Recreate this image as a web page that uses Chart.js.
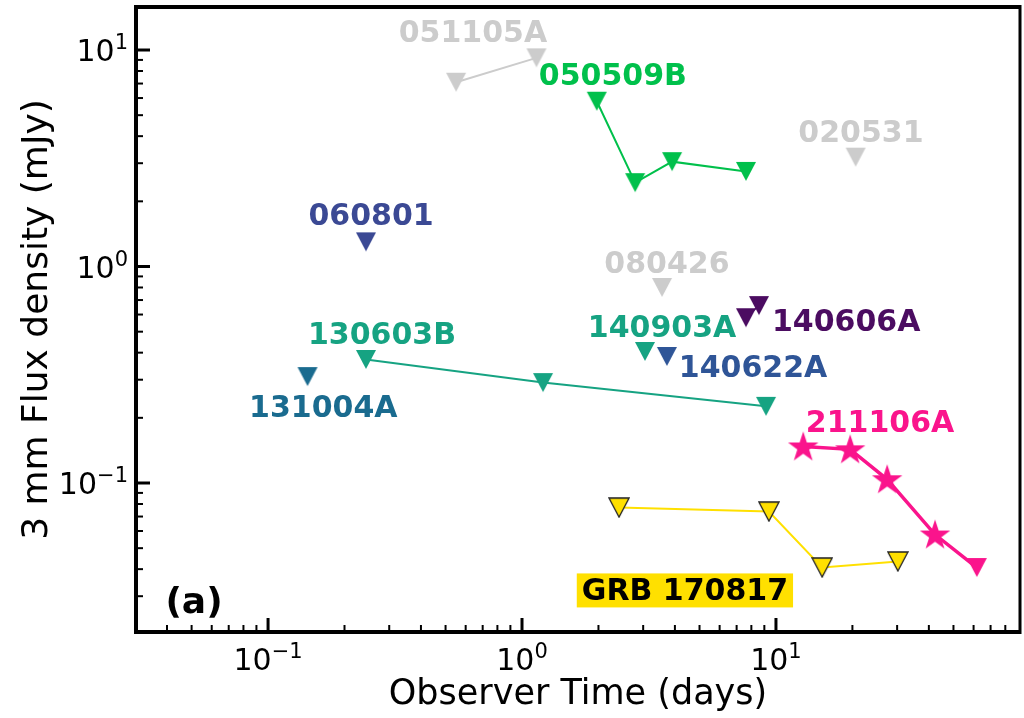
<!DOCTYPE html>
<html>
<head>
<meta charset="utf-8">
<script src="https://cdn.jsdelivr.net/npm/chart.js@4.4.1/dist/chart.umd.min.js"></script>
<style>
html, body { margin: 0; padding: 0; background: #fff; }
</style>
</head>
<body>
<canvas id="grb" width="1024" height="718"></canvas>
<script>
// observer time (days) / 3 mm flux density (mJy)
var t051105A = [0.55, 1.14];
var f051105A = [7.1, 9.2];
var t050509B = [1.97, 2.79, 3.90, 7.62];
var f050509B = [5.8, 2.44, 3.05, 2.75];
var t020531 = [20.6];
var f020531 = [3.2];
var t060801 = [0.243];
var f060801 = [1.30];
var t080426 = [3.56];
var f080426 = [0.80];
var t140606A = [7.62, 8.57];
var f140606A = [0.58, 0.66];
var t140903A = [3.05];
var f140903A = [0.405];
var t140622A = [3.72];
var f140622A = [0.384];
var t130603B = [0.243, 1.21, 9.14];
var f130603B = [0.372, 0.291, 0.226];
var t131004A = [0.143];
var f131004A = [0.31];
var t211106A = [12.8, 19.6, 27.4, 42.3, 61.8];
var f211106A = [0.1475, 0.143, 0.104, 0.0578, 0.0407];
var t170817 = [2.41, 9.38, 15.2, 30.2];
var f170817 = [0.077, 0.0738, 0.0407, 0.0434];

// name labels, placed in data coordinates (text centre)
var labelText = ['051105A', '050509B', '020531', '060801', '080426', '140606A', '140903A', '140622A', '130603B', '131004A', '211106A'];
var labelT = [0.641, 2.28, 21.6, 0.2545, 3.72, 18.9, 3.56, 8.12, 0.281, 0.165, 25.7];
var labelF = [12.2, 7.70, 4.2, 1.74, 1.05, 0.563, 0.528, 0.345, 0.491, 0.226, 0.192];
var grbLabel = 'GRB 170817';
var grbLabelT = 4.38, grbLabelF = 0.0319;
var panelLabel = '(a)';
var panelT = 0.0511, panelF = 0.0284;

var xMin = 0.0302, xMax = 91.4;
var yMin = 0.0205, yMax = 15.8;

var gray = '#cccccc', green = '#00c04b', navy = '#3b4994', purple = '#4b0c61',
    teal = '#16a382', blue = '#2f5597', petrol = '#1a6b8f', pink = '#fa148c', gold = '#ffe000';
var labelColor = [gray, green, gray, navy, gray, purple, teal, blue, teal, petrol, pink];

var FONT = '"DejaVu Sans", sans-serif';

function pts(t, f) {
	var out = [];
	for (var i = 0; i < t.length; i++) out.push({x: t[i], y: f[i]});
	return out;
}

function downTri(fill, edge) {
	var w = 20, h = 19;
	var c = document.createElement('canvas');
	c.width = w + 2; c.height = h + 2;
	var g = c.getContext('2d');
	g.beginPath();
	g.moveTo(1, 1); g.lineTo(w + 1, 1); g.lineTo(w / 2 + 1, h + 1);
	g.closePath();
	g.fillStyle = fill; g.fill();
	if (edge) { g.lineWidth = 1.3; g.strokeStyle = edge; g.stroke(); }
	return c;
}

function star(fill) {
	var R = 16, r = 6.2, s = 2 * R + 2;
	var c = document.createElement('canvas');
	c.width = s; c.height = s;
	var g = c.getContext('2d');
	g.beginPath();
	for (var k = 0; k < 10; k++) {
		var a = -Math.PI / 2 + k * Math.PI / 5;
		var rr = k % 2 ? r : R;
		var px = s / 2 + rr * Math.cos(a), py = s / 2 + 1 + rr * Math.sin(a);
		if (k === 0) g.moveTo(px, py); else g.lineTo(px, py);
	}
	g.closePath();
	g.fillStyle = fill; g.fill();
	return c;
}

function series(t, f, color, width, marker) {
	return {
		data: pts(t, f),
		showLine: t.length > 1,
		borderColor: color,
		borderWidth: width,
		pointStyle: marker,
		pointRadius: 10,
		pointHoverRadius: 10,
		tension: 0
	};
}

function logTicks(min, max) {
	var out = [];
	for (var e = Math.floor(Math.log10(min)); e <= Math.ceil(Math.log10(max)); e++) {
		for (var m = 1; m < 10; m++) {
			var v = m * Math.pow(10, e);
			if (v >= min && v <= max) out.push({value: v});
		}
	}
	return out;
}

function isDecade(v) {
	var l = Math.log10(v);
	return Math.abs(l - Math.round(l)) < 1e-9;
}

// "10" with a raised exponent, like matplotlib's log tick labels
function drawPow(ctx, v, x, base, align) {
	var e = Math.round(Math.log10(v));
	var sup = (e < 0 ? '\u2212' : '') + Math.abs(e);
	ctx.font = '30px ' + FONT;
	var w1 = ctx.measureText('10').width;
	ctx.font = '21px ' + FONT;
	var w2 = ctx.measureText(sup).width;
	var x0 = align === 'right' ? x - w1 - w2 : x - (w1 + w2) / 2;
	ctx.textAlign = 'left';
	ctx.textBaseline = 'alphabetic';
	ctx.font = '30px ' + FONT;
	ctx.fillText('10', x0, base);
	ctx.font = '21px ' + FONT;
	ctx.fillText(sup, x0 + w1, base - 12);
}

var pinkStar = star(pink);
var pinkTri = downTri(pink);

var datasets = [
	series(t051105A, f051105A, gray, 2, downTri(gray)),
	series(t050509B, f050509B, green, 2, downTri(green)),
	series(t020531, f020531, gray, 1.5, downTri(gray)),
	series(t060801, f060801, navy, 1.5, downTri(navy)),
	series(t080426, f080426, gray, 1.5, downTri(gray)),
	series(t140606A, f140606A, purple, 1.5, downTri(purple)),
	series(t140903A, f140903A, teal, 1.5, downTri(teal)),
	series(t140622A, f140622A, blue, 1.5, downTri(blue)),
	series(t130603B, f130603B, teal, 2, downTri(teal)),
	series(t131004A, f131004A, petrol, 1.5, downTri(petrol)),
	series(t170817, f170817, gold, 2, downTri(gold, '#222')),
	series(t211106A, f211106A, pink, 3.5, [pinkStar, pinkStar, pinkStar, pinkStar, pinkTri])
];

var frame = {
	id: 'frame',
	afterDatasetsDraw: function(chart) {
		var ctx = chart.ctx, xs = chart.scales.x, ys = chart.scales.y;
		ctx.save();
		ctx.textAlign = 'center';
		ctx.textBaseline = 'middle';
		ctx.font = 'bold 30px ' + FONT;
		for (var i = 0; i < labelText.length; i++) {
			ctx.fillStyle = labelColor[i];
			ctx.fillText(labelText[i], xs.getPixelForValue(labelT[i]), ys.getPixelForValue(labelF[i]) + 3);
		}
		// GRB 170817 tag on yellow box
		var gx = xs.getPixelForValue(grbLabelT), gy = ys.getPixelForValue(grbLabelF);
		var w = ctx.measureText(grbLabel).width + 10;
		ctx.fillStyle = gold;
		ctx.fillRect(gx - w / 2, gy - 17, w, 34);
		ctx.fillStyle = '#000';
		ctx.fillText(grbLabel, gx, gy + 2);
		ctx.font = 'bold 36px ' + FONT;
		ctx.fillText(panelLabel, xs.getPixelForValue(panelT), ys.getPixelForValue(panelF) + 2);
		ctx.restore();
	},
	afterDraw: function(chart) {
		var ctx = chart.ctx, a = chart.chartArea, xs = chart.scales.x, ys = chart.scales.y;
		ctx.save();
		ctx.strokeStyle = '#000';
		ctx.fillStyle = '#000';
		// inward ticks + decade labels
		xs.ticks.forEach(function(t) {
			var p = xs.getPixelForValue(t.value);
			if (p < a.left + 2 || p > a.right - 2) return;
			var major = isDecade(t.value);
			ctx.lineWidth = major ? 3 : 2;
			ctx.beginPath();
			ctx.moveTo(p, a.bottom);
			ctx.lineTo(p, a.bottom - (major ? 14 : 7));
			ctx.stroke();
			if (major) drawPow(ctx, t.value, p, a.bottom + 38, 'center');
		});
		ys.ticks.forEach(function(t) {
			var p = ys.getPixelForValue(t.value);
			if (p < a.top + 2 || p > a.bottom - 2) return;
			var major = isDecade(t.value);
			ctx.lineWidth = major ? 3 : 2;
			ctx.beginPath();
			ctx.moveTo(a.left, p);
			ctx.lineTo(a.left + (major ? 14 : 7), p);
			ctx.stroke();
			if (major) drawPow(ctx, t.value, a.left - 8, p + 11, 'right');
		});
		// spines
		ctx.lineWidth = 4;
		ctx.beginPath();
		ctx.moveTo(a.right, a.top); ctx.lineTo(a.left, a.top);
		ctx.lineTo(a.left, a.bottom); ctx.lineTo(a.right, a.bottom);
		ctx.stroke();
		ctx.lineWidth = 3;
		ctx.beginPath();
		ctx.moveTo(a.right, a.top - 2); ctx.lineTo(a.right, a.bottom + 2);
		ctx.stroke();
		ctx.restore();
	}
};

new Chart(document.getElementById('grb'), {
	type: 'scatter',
	data: {datasets: datasets},
	options: {
		responsive: false,
		animation: false,
		events: [],
		layout: {autoPadding: false, padding: {top: 7, right: 4, left: 0, bottom: 0}},
		plugins: {legend: {display: false}, tooltip: {enabled: false}},
		scales: {
			x: {
				type: 'logarithmic',
				min: xMin, max: xMax,
				bounds: 'data',
				afterBuildTicks: function(s) { s.ticks = logTicks(xMin, xMax); },
				afterFit: function(s) { s.height = 86; s.paddingLeft = 0; s.paddingRight = 0; },
				grid: {display: false},
				border: {display: false},
				ticks: {display: false},
				title: {
					display: true, text: 'Observer Time (days)', color: '#000',
					font: {family: FONT, size: 35}, padding: {top: 0, bottom: 2}
				}
			},
			y: {
				type: 'logarithmic',
				min: yMin, max: yMax,
				bounds: 'data',
				afterBuildTicks: function(s) { s.ticks = logTicks(yMin, yMax); },
				afterFit: function(s) { s.width = 136; s.paddingTop = 0; s.paddingBottom = 0; },
				grid: {display: false},
				border: {display: false},
				ticks: {display: false},
				title: {
					display: true, text: '3 mm Flux density (mJy)', color: '#000',
					font: {family: FONT, size: 36}, padding: {top: 16, bottom: 0}
				}
			}
		}
	},
	plugins: [frame]
});
</script>
</body>
</html>
